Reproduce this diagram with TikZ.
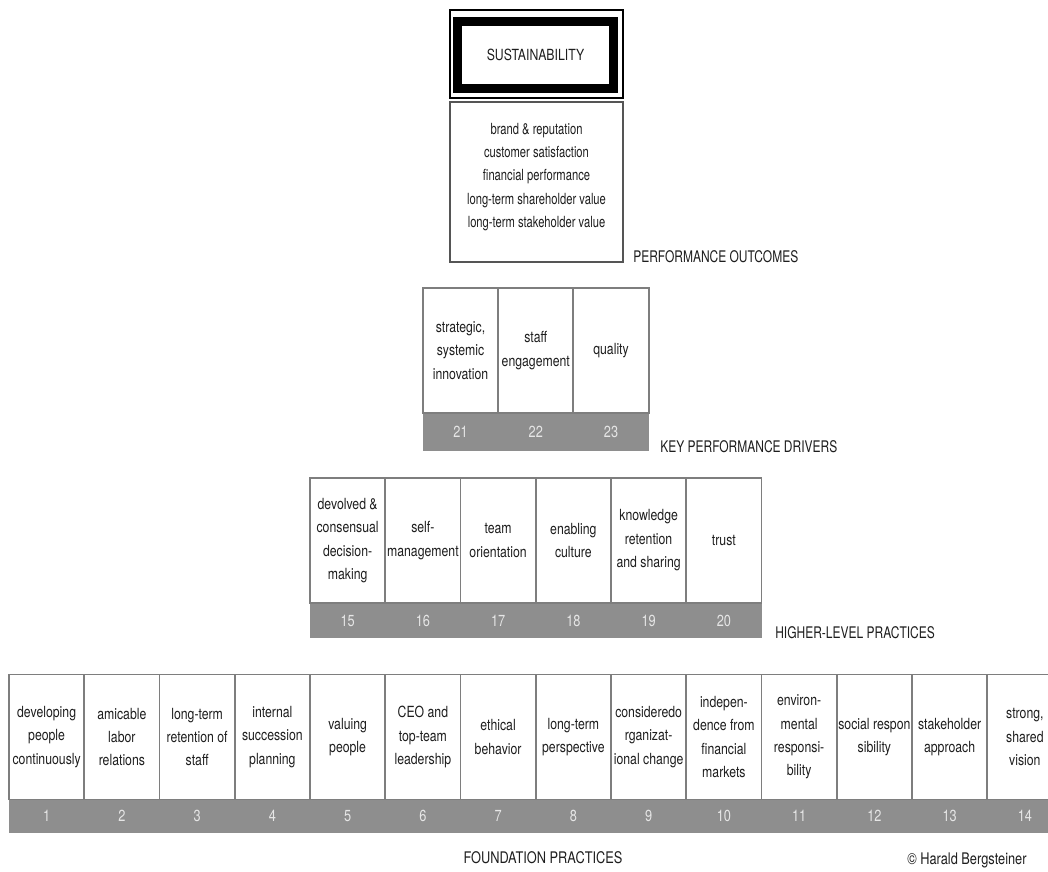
\documentclass[tikz,border=0pt]{standalone}
\usepackage{fontspec}
\setmainfont{TeX Gyre Heros}[FakeStretch=0.8]
\newfontfamily\narrowlbl{TeX Gyre Heros}[FakeStretch=0.75]
\newfontfamily\narrowtxt{TeX Gyre Heros}[FakeStretch=0.73]
\definecolor{txt}{HTML}{1E1E1E}
\definecolor{cline}{HTML}{7E7E7E}
\definecolor{bandc}{HTML}{8E8E8E}
\definecolor{numc}{HTML}{E6E6E6}
\definecolor{boxline}{HTML}{555555}
\begin{document}
\begin{tikzpicture}[x=0.75pt,y=-0.75pt,
  cell/.style={draw=cline, line width=1.4pt, fill=white, minimum width=56.44pt,
    minimum height=93.75pt, inner sep=0pt, align=center, text=txt,
    font=\fontsize{11.5}{17.6}\selectfont},
  numlbl/.style={text=numc, inner sep=0pt, font=\fontsize{12}{14}\selectfont},
  lbl/.style={text=txt, inner sep=0pt, font=\fontsize{12}{14}\selectfont},
  nlbl/.style={text=txt, inner sep=0pt, font=\narrowlbl\fontsize{12}{14}\selectfont},
  txtblock/.style={text=txt, inner sep=0pt, align=center, font=\narrowtxt\fontsize{11.5}{17.5}\selectfont}]
\useasboundingbox (0,0) rectangle (1048,871);
\clip (0,0) rectangle (1048,871);
\fill[white] (0,0) rectangle (1048,871);

% ---- top: sustainability and outcomes
\node[draw=black, line width=1.5pt, minimum width=129.75pt, minimum height=66pt, inner sep=0pt] (frame) at (536.5,54) {};
\node[draw=black, line width=6.75pt, minimum width=117pt, minimum height=50.25pt, inner sep=0pt,
  text=txt, font=\fontsize{11.5}{14}\selectfont] (sust) at (535.5,55) {SUSTAINABILITY};
\node[draw=boxline, line width=1.2pt, minimum width=129.75pt, minimum height=120pt, inner sep=0pt] (outcbox) at (536.5,182) {};
\node[txtblock] (outc) at (536.5,177) {brand \& reputation\\customer satisfaction\\financial performance\\long-term shareholder value\\long-term stakeholder value};
\node[nlbl, anchor=west] (outclbl) at (633,257) {PERFORMANCE OUTCOMES};

% ---- key performance drivers
\fill[bandc] (422.9,412) rectangle (648.7,451);
\foreach \t [count=\i] in {{strategic,\\systemic\\innovation},{staff\\engagement},{quality}} {
  \node[cell] (k\i) at ({422.9+75.25*(\i-0.5)},350.5) {\t};
  \pgfmathtruncatemacro{\n}{\i+20}
  \node[numlbl] (kn\i) at ({422.9+75.25*(\i-0.5)},432) {\n};
}
\node[nlbl, anchor=west] (kpdlbl) at (660,447) {KEY PERFORMANCE DRIVERS};

% ---- higher-level practices
\fill[bandc] (310,603) rectangle (761.5,638);
\foreach \t [count=\i] in {{devolved \&\\consensual\\decision-\\making},{self-\\management},{team\\orientation},{enabling\\culture},{knowledge\\retention\\and sharing},{trust}} {
  \node[cell] (h\i) at ({310+75.25*(\i-0.5)},540.5) {\t};
  \pgfmathtruncatemacro{\n}{\i+14}
  \node[numlbl] (hn\i) at ({310+75.25*(\i-0.5)},620.5) {\n};
}
\node[nlbl, anchor=west] (hlplbl) at (775,633) {HIGHER-LEVEL PRACTICES};

% ---- foundation practices
\fill[bandc] (9,799) rectangle (1070,833);
\foreach \t [count=\i] in {{developing\\people\\continuously},{amicable\\labor\\relations},{long-term\\retention of\\staff},{internal\\succession\\planning},{valuing\\people},{CEO and\\top-team\\leadership},{ethical\\behavior},{long-term\\perspective},{consideredo\\rganizat-\\ional change},{indepen-\\dence from\\financial\\markets},{environ-\\mental\\responsi-\\bility},{social respon\\sibility},{stakeholder\\approach},{strong,\\shared\\vision}} {
  \node[cell] (f\i) at ({9+75.25*(\i-0.5)},737) {\t};
  \node[numlbl] (fn\i) at ({9+75.25*(\i-0.5)},816) {\i};
}
\node[lbl] (fplbl) at (543,858) {FOUNDATION PRACTICES};
\node[lbl, anchor=base west] (copy) at (907,864) {© Harald Bergsteiner};
\end{tikzpicture}
\end{document}
